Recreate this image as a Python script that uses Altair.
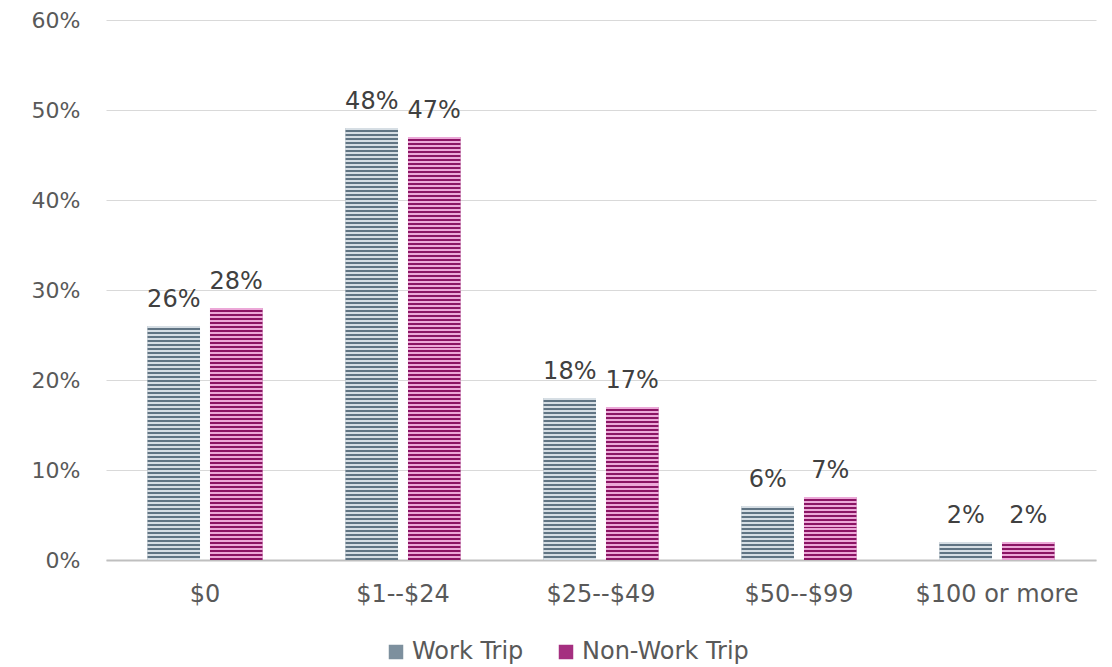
import altair as alt
import pandas as pd

categories = ["$0", "$1--$24", "$25--$49", "$50--$99", "$100 or more"]
series_names = ["Work Trip", "Non-Work Trip"]
work_values = [0.26, 0.48, 0.18, 0.06, 0.02]
nonwork_values = [0.28, 0.47, 0.17, 0.07, 0.02]

solid_colors = ["#7d909e", "#a52f80"]
stripe_colors = {"Work Trip": ("#d6dee4", "#607483"), "Non-Work Trip": ("#eca8d8", "#8b1464")}

rows = []
for c, w, n in zip(categories, work_values, nonwork_values):
    rows.append({"cat": c, "series": "Work Trip", "value": w})
    rows.append({"cat": c, "series": "Non-Work Trip", "value": n})
df = pd.DataFrame(rows)

FONT = "DejaVu Sans"
PX_PER_UNIT = 900.0  # plot px per 1.0 (100%) on the y scale, for stripe density
STRIPE_HALF = 2.0

x_enc = alt.X("cat:N", sort=categories, title=None,
              scale=alt.Scale(paddingInner=0.42, paddingOuter=0.21),
              axis=alt.Axis(labelAngle=0, labelFont=FONT, labelFontSize=24, labelColor="#595959",
                            labelPadding=22, ticks=False, tickSize=0, domainColor="#bfbfbf",
                            domainWidth=2, grid=False))
xo_enc = alt.XOffset("series:N", sort=series_names,
                     scale=alt.Scale(domain=series_names, paddingInner=0.16, paddingOuter=0))
y_enc = alt.Y("value:Q", title=None,
              scale=alt.Scale(domain=[0, 0.6], nice=False),
              axis=alt.Axis(format=".0%", values=[0, 0.1, 0.2, 0.3, 0.4, 0.5, 0.6],
                            labelFont=FONT, labelFontSize=22, labelColor="#595959",
                            labelPadding=26, ticks=False, tickSize=0, domain=False,
                            gridColor="#d9d9d9", gridWidth=1))

base = alt.Chart(df).mark_bar().encode(
    x=x_enc, xOffset=xo_enc, y=y_enc,
    color=alt.Color("series:N", sort=series_names,
                    scale=alt.Scale(domain=series_names, range=solid_colors),
                    legend=alt.Legend(title=None, orient="none", direction="horizontal",
                                      legendX=278, legendY=620, symbolType="square",
                                      symbolSize=210, symbolStrokeWidth=0,
                                      labelFont=FONT, labelFontSize=24, labelColor="#595959",
                                      labelLimit=0, columnPadding=30, labelOffset=4)),
)

layers = [base]
for r in rows:
    h = r["value"] * PX_PER_UNIT
    n = max(2, int(round(h / STRIPE_HALF)))
    light, dark = stripe_colors[r["series"]]
    stops = []
    for i in range(n):
        col = light if i % 2 == 0 else dark
        stops.append({"offset": i / n, "color": col})
        stops.append({"offset": (i + 1) / n, "color": col})
    grad = {"gradient": "linear", "x1": 0, "y1": 0, "x2": 0, "y2": 1, "stops": stops}
    layer = alt.Chart(df).transform_filter(
        (alt.datum.cat == r["cat"]) & (alt.datum.series == r["series"])
    ).mark_bar(color=grad).encode(x=x_enc, xOffset=xo_enc, y=y_enc)
    layers.append(layer)

text = alt.Chart(df).mark_text(baseline="alphabetic", dy=-19, font=FONT, fontSize=24,
                               color="#404040").encode(
    x=x_enc, xOffset=xo_enc, y=y_enc, text=alt.Text("value:Q", format=".0%"))
layers.append(text)

chart = alt.layer(*layers).properties(
    width=990, height=540,
    background="white",
    autosize=alt.AutoSizeParams(type="none"),
    padding={"left": 98, "top": 12, "right": 8, "bottom": 105},
).configure_view(strokeWidth=0, stroke="transparent")

chart.save("out.html", embed_options={"renderer": "svg", "actions": False})
